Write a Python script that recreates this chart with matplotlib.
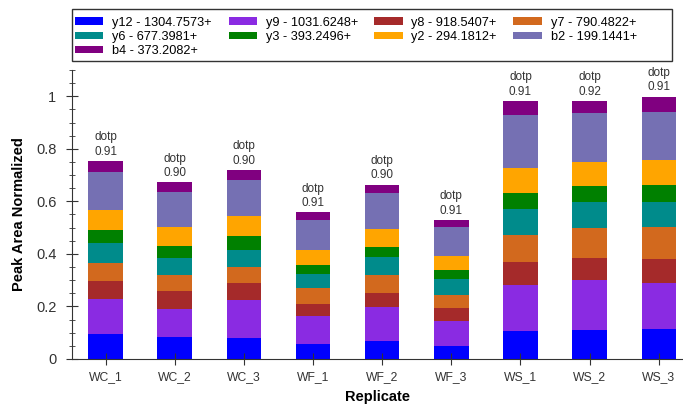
import numpy as np
import matplotlib
matplotlib.use("Agg")
import matplotlib.pyplot as plt
from matplotlib.patches import Patch, Rectangle
from matplotlib.ticker import MultipleLocator

plt.rcParams['font.family'] = ['Liberation Sans', 'DejaVu Sans']

replicates = ["WC_1", "WC_2", "WC_3", "WF_1", "WF_2", "WF_3", "WS_1", "WS_2", "WS_3"]
dotp = ["0.91", "0.90", "0.90", "0.91", "0.90", "0.91", "0.91", "0.92", "0.91"]

# stacked from bottom to top
ion_names = ["y12 - 1304.7573+", "y9 - 1031.6248+", "y8 - 918.5407+", "y7 - 790.4822+",
             "y6 - 677.3981+", "y3 - 393.2496+", "y2 - 294.1812+", "b2 - 199.1441+",
             "b4 - 373.2082+"]
ion_colors = ["#0000FF", "#8A2BE2", "#A52A2A", "#D2691E", "#008B8B",
              "#008000", "#FFA500", "#7570B3", "#800080"]

y12 = [0.094, 0.083, 0.081, 0.057, 0.070, 0.051, 0.107, 0.111, 0.113]
y9 = [0.134, 0.109, 0.144, 0.107, 0.127, 0.095, 0.173, 0.191, 0.178]
y8 = [0.070, 0.065, 0.064, 0.045, 0.054, 0.049, 0.089, 0.083, 0.090]
y7 = [0.067, 0.064, 0.063, 0.063, 0.070, 0.048, 0.102, 0.114, 0.122]
y6 = [0.078, 0.064, 0.064, 0.052, 0.067, 0.061, 0.098, 0.098, 0.094]
y3 = [0.048, 0.044, 0.051, 0.034, 0.038, 0.033, 0.061, 0.061, 0.066]
y2 = [0.075, 0.075, 0.076, 0.058, 0.070, 0.056, 0.098, 0.091, 0.094]
b2 = [0.145, 0.131, 0.140, 0.112, 0.136, 0.110, 0.199, 0.189, 0.185]
b4 = [0.042, 0.037, 0.036, 0.030, 0.032, 0.025, 0.055, 0.044, 0.057]

series = [y12, y9, y8, y7, y6, y3, y2, b2, b4]

fig = plt.figure(figsize=(6.83, 4.07), dpi=100)
ax = fig.add_axes([0.105, 0.118, 0.895, 0.71])

x = np.arange(len(replicates))
bottom = np.zeros(len(replicates))
for vals, col in zip(series, ion_colors):
    ax.bar(x, vals, width=0.5, bottom=bottom, color=col, linewidth=0)
    bottom += np.array(vals)

for xi, top, d in zip(x, bottom, dotp):
    ax.text(xi, top + 0.012, "dotp\n" + d, ha='center', va='bottom',
            fontsize=8.5, color='#333333', linespacing=1.3)

ax.set_xlim(-0.49, 8.35)
ax.set_ylim(0, 1.1)
ax.set_xticks(x)
ax.set_xticklabels(replicates)
ax.yaxis.set_minor_locator(MultipleLocator(0.05))
ax.set_yticks([0, 0.2, 0.4, 0.6, 0.8, 1.0])
ax.set_yticklabels(["0", "0.2", "0.4", "0.6", "0.8", "1"])
ax.tick_params(axis='both', which='major', direction='inout', length=8,
               labelcolor='#333333', color='#333333')
ax.tick_params(axis='x', which='major', labelsize=8.7, pad=5)
ax.tick_params(axis='y', which='major', labelsize=10.5, pad=7)
ax.tick_params(axis='y', which='minor', direction='inout', length=5, color='#333333')
ax.spines['top'].set_visible(False)
ax.spines['right'].set_visible(False)
for s in ['left', 'bottom']:
    ax.spines[s].set_color('#333333')

ax.set_xlabel("Replicate", fontsize=10.5, fontweight='bold', labelpad=5)
ax.set_ylabel("Peak Area Normalized", fontsize=10.5, fontweight='bold', labelpad=7)

# legend frame drawn as a box across the top
fig.add_artist(Rectangle((71.5 / 683, 1 - 61 / 407), (672 - 71.5) / 683, 52 / 407,
                         transform=fig.transFigure, facecolor='white',
                         edgecolor='#333333', linewidth=1.0))

handles = [Patch(facecolor=c, edgecolor='none') for c in ion_colors]
order = [0, 4, 8, 1, 5, 2, 6, 3, 7]
leg = fig.legend([handles[i] for i in order], [ion_names[i] for i in order],
                 ncol=4, loc='upper left',
                 bbox_to_anchor=(71.5 / 683, 1 - 13 / 407),
                 fontsize=9.2, frameon=False,
                 handlelength=2.2, handleheight=0.55, handletextpad=0.7,
                 labelspacing=0.16, borderpad=0.3, borderaxespad=0,
                 columnspacing=1.3)

fig.savefig("out.png", dpi=100)
